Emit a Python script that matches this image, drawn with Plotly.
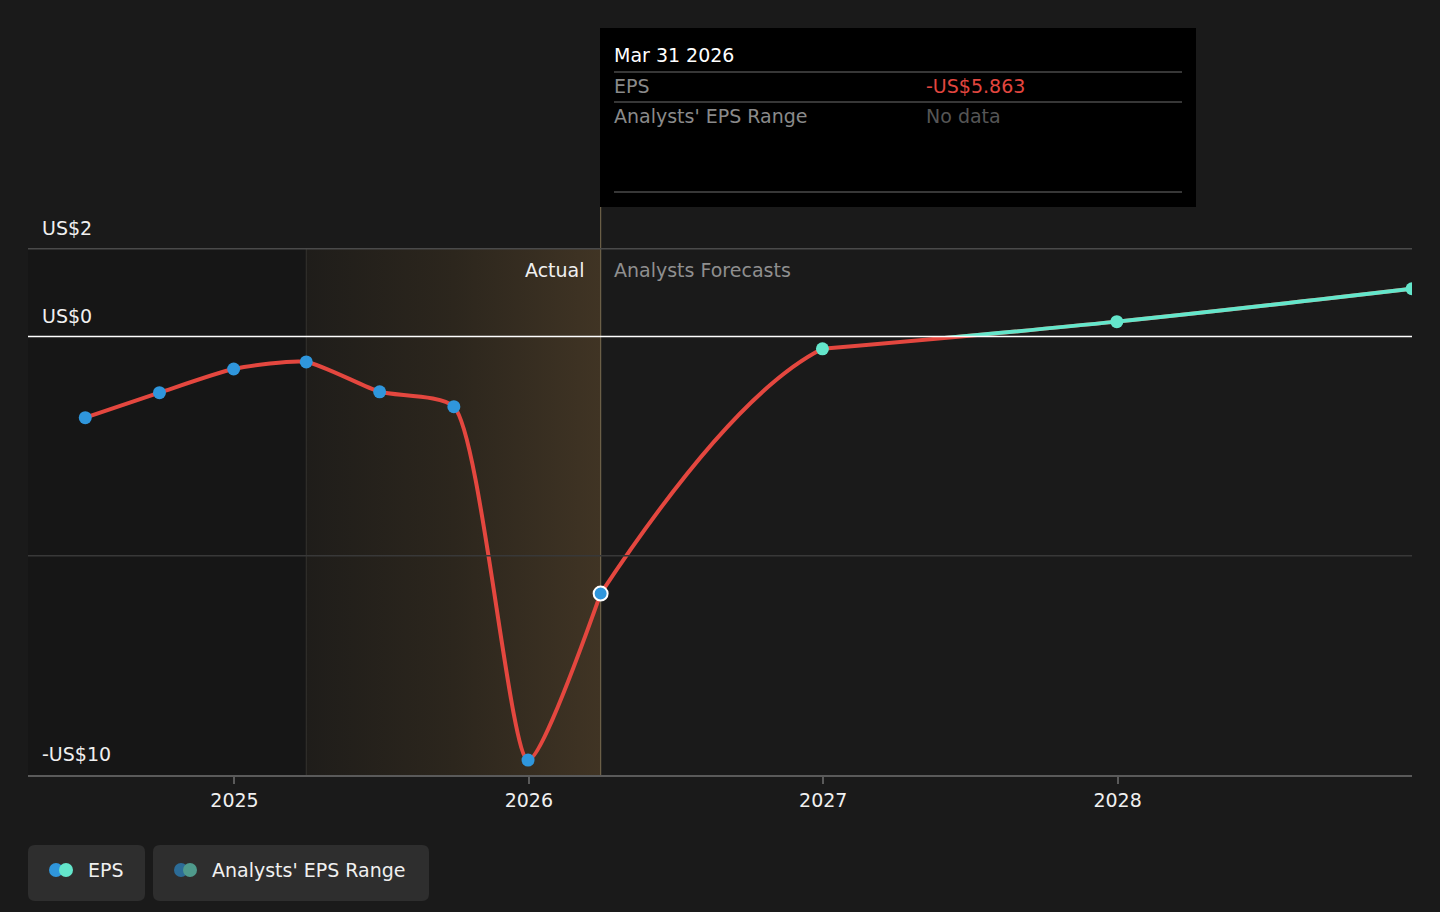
import pandas as pd
import plotly.graph_objects as go

# ---------------- data ----------------
actual_dates = ["2024-06-30", "2024-09-30", "2024-12-31", "2025-03-31",
                "2025-06-30", "2025-09-30", "2025-12-31", "2026-03-31"]
actual_eps = [-1.85, -1.28, -0.74, -0.58, -1.26, -1.60, -9.66, -5.863]

forecast_dates = ["2026-12-31", "2027-12-31", "2028-12-31"]
forecast_eps = [-0.28, 0.34, 1.09]

x_tick_vals = ["2025-01-01", "2026-01-01", "2027-01-01", "2028-01-01"]
x_tick_text = ["2025", "2026", "2027", "2028"]
y_tick_vals = [2, 0, -10]
y_tick_text = ["US$2", "US$0", "-US$10"]
grid_vals = [2, -5]

hover_date = "2026-03-31"
hover_value = -5.863
shade_start = "2025-03-31"
x_range = ["2024-04-20", "2028-12-31"]
y_range = [-10, 3]

# ---------------- style ----------------
BG = "#1a1a1a"
RED = "#e4473f"
TEAL = "#64e6cb"
BLUE = "#2f96dc"
FONT = "DejaVu Sans"
FS = 19
SMOOTH_ACT = 0.6
SMOOTH_FC = 1.0
W, H = 1440, 912
ML, MR, MT, MB = 28, 28, 205, 137
PW, PH = W - ML - MR, H - MT - MB


def px(xp):
    return (xp - ML) / PW


def py(yp):
    return (H - MB - yp) / PH


# forecast line pieces
fc_line_dates = [actual_dates[-1]] + forecast_dates
fc_line_eps = [actual_eps[-1]] + forecast_eps
split_date = forecast_dates[0]

# fraction of x-domain where the first forecast point lies (for clipping)
t0, t1 = pd.Timestamp(x_range[0]), pd.Timestamp(x_range[1])
split_frac = (pd.Timestamp(split_date) - t0) / (t1 - t0)

fig = go.Figure()

# shaded "actual" band with horizontal gradient
fig.add_trace(go.Scatter(
    x=[shade_start, hover_date, hover_date, shade_start, shade_start],
    y=[y_tick_vals[0], y_tick_vals[0], y_range[0], y_range[0], y_tick_vals[0]],
    mode="lines", line=dict(width=0), fill="toself",
    fillgradient=dict(type="horizontal",
                      colorscale=[[0, "#1f1d1a"], [0.5, "#2c261d"], [1, "#403424"]]),
    hoverinfo="skip", showlegend=False))

# band left edge and hover vertical line
fig.add_trace(go.Scatter(
    x=[shade_start, shade_start], y=[y_range[0], y_tick_vals[0]], mode="lines",
    line=dict(color="#35332f", width=1), hoverinfo="skip", showlegend=False))
fig.add_trace(go.Scatter(
    x=[hover_date, hover_date], y=[y_range[0], y_range[1]], mode="lines",
    line=dict(color="#6e6148", width=1.2), hoverinfo="skip", showlegend=False))

# actual line (red)
fig.add_trace(go.Scatter(
    x=actual_dates, y=actual_eps, mode="lines",
    line=dict(color=RED, width=4, shape="spline", smoothing=SMOOTH_ACT),
    hoverinfo="skip", showlegend=False))

# forecast line, first stretch (clipped at first forecast point via x2 domain)
fig.add_trace(go.Scatter(
    x=fc_line_dates, y=fc_line_eps, mode="lines", xaxis="x2",
    line=dict(color=RED, width=4, shape="spline", smoothing=SMOOTH_FC),
    hoverinfo="skip", showlegend=False))

# forecast line, rest: red, plus a teal copy clipped to the positive region via y2
fig.add_trace(go.Scatter(
    x=forecast_dates, y=forecast_eps, mode="lines",
    line=dict(color=RED, width=4, shape="spline", smoothing=SMOOTH_FC),
    hoverinfo="skip", showlegend=False))
fig.add_trace(go.Scatter(
    x=forecast_dates, y=forecast_eps, mode="lines", yaxis="y2",
    line=dict(color=TEAL, width=4, shape="spline", smoothing=SMOOTH_FC),
    hoverinfo="skip", showlegend=False))

# actual markers
fig.add_trace(go.Scatter(
    x=actual_dates[:-1], y=actual_eps[:-1], mode="markers",
    marker=dict(color=BLUE, size=13), hoverinfo="skip", showlegend=False))

# forecast markers (first one on x2 so it sits above the x2 line)
fig.add_trace(go.Scatter(
    x=forecast_dates[1:], y=forecast_eps[1:], mode="markers",
    marker=dict(color=TEAL, size=13), hoverinfo="skip", showlegend=False))
fig.add_trace(go.Scatter(
    x=forecast_dates[:1], y=forecast_eps[:1], mode="markers", xaxis="x2",
    cliponaxis=False, marker=dict(color=TEAL, size=13), hoverinfo="skip",
    showlegend=False))

# hovered point
fig.add_trace(go.Scatter(
    x=[hover_date], y=[hover_value], mode="markers", xaxis="x2", cliponaxis=False,
    marker=dict(color=BLUE, size=14, line=dict(color="white", width=2)),
    hoverinfo="skip", showlegend=False))

shapes = []
# darker region left of shaded band
shapes.append(dict(type="rect", xref="x", yref="y", x0=x_range[0], x1=shade_start,
                   y0=y_range[0], y1=y_tick_vals[0], fillcolor="#161616",
                   line=dict(width=0), layer="below"))
# gridlines
shapes.append(dict(type="line", xref="paper", yref="y", x0=0, x1=1, y0=grid_vals[0],
                   y1=grid_vals[0], line=dict(color="#4a4a4a", width=1.5), layer="above"))
shapes.append(dict(type="line", xref="paper", yref="y", x0=0, x1=1, y0=grid_vals[1],
                   y1=grid_vals[1], line=dict(color="#383838", width=1.5), layer="above"))
shapes.append(dict(type="line", xref="paper", yref="y", x0=0, x1=1, y0=0, y1=0,
                   line=dict(color="#ffffff", width=1.5), layer="above"))
# tooltip box
shapes.append(dict(type="rect", xref="paper", yref="paper", x0=px(600), x1=px(1196),
                   y0=py(207), y1=py(28), fillcolor="#000000", line=dict(width=0)))
for ly in [72, 102, 192]:
    shapes.append(dict(type="line", xref="paper", yref="paper", x0=px(614), x1=px(1182),
                       y0=py(ly), y1=py(ly), line=dict(color="#4a4a4a", width=1.5)))


# legend buttons (rounded rects in pixel size mode)
def rounded(cx, cy, w, h, r, color):
    hw, hh = w / 2, h / 2
    path = (f"M {-hw + r},{-hh} L {hw - r},{-hh} Q {hw},{-hh} {hw},{-hh + r} "
            f"L {hw},{hh - r} Q {hw},{hh} {hw - r},{hh} L {-hw + r},{hh} "
            f"Q {-hw},{hh} {-hw},{hh - r} L {-hw},{-hh + r} Q {-hw},{-hh} {-hw + r},{-hh} Z")
    return dict(type="path", xref="paper", yref="paper", xsizemode="pixel", ysizemode="pixel",
                xanchor=px(cx), yanchor=py(cy), path=path, fillcolor=color, line=dict(width=0))


shapes.append(rounded((28 + 145) / 2, 873, 117, 56, 7, "#2e2e2e"))
shapes.append(rounded((153 + 429) / 2, 873, 276, 56, 7, "#2e2e2e"))


def dot(cx, cy, r, color):
    return dict(type="circle", xref="paper", yref="paper", xsizemode="pixel", ysizemode="pixel",
                xanchor=px(cx), yanchor=py(cy), x0=-r, x1=r, y0=-r, y1=r,
                fillcolor=color, line=dict(width=0))


shapes += [dot(56, 870, 7, BLUE), dot(66, 870, 7, TEAL),
           dot(181, 870, 7, "#2c6c97"), dot(190, 870, 7, "#4f9a8c")]


def label(xp, yp, text, color, anchor="left", size=FS):
    return dict(x=px(xp), xref="paper", y=py(yp), yref="paper", text=text, showarrow=False,
                xanchor=anchor, yanchor="middle", font=dict(family=FONT, size=size, color=color))


annotations = []
for v, t in zip(y_tick_vals, y_tick_text):
    annotations.append(dict(x=px(40), xref="paper", y=v, yref="y", text=t, showarrow=False,
                            xanchor="left", yanchor="bottom", yshift=8,
                            font=dict(family=FONT, size=FS, color="#f0f0f0")))
annotations.append(label(587, 270, "Actual", "#f0f0f0", anchor="right"))
annotations.append(label(612, 270, "Analysts Forecasts", "#8f8f8f"))
# tooltip texts
annotations.append(label(612, 55, "Mar 31 2026", "#ffffff"))
annotations.append(label(612, 86, "EPS", "#8a8a8a"))
annotations.append(label(924, 86, f"-US${abs(hover_value):.3f}", "#e2463f"))
annotations.append(label(612, 116, "Analysts' EPS Range", "#8a8a8a"))
annotations.append(label(924, 116, "No data", "#555555"))
# legend texts
annotations.append(label(86, 870, "EPS", "#f0f0f0"))
annotations.append(label(210, 870, "Analysts' EPS Range", "#f0f0f0"))

zero_frac = (0 - y_range[0]) / (y_range[1] - y_range[0])

fig.update_layout(
    width=W, height=H,
    margin=dict(l=ML, r=MR, t=MT, b=MB),
    paper_bgcolor=BG, plot_bgcolor="rgba(0,0,0,0)",
    showlegend=False,
    xaxis=dict(type="date", range=x_range, tickvals=x_tick_vals, ticktext=x_tick_text,
               showgrid=False, zeroline=False, showline=True, linecolor="#5a5a5a",
               linewidth=2, ticks="outside", ticklen=7, tickcolor="#5a5a5a", tickwidth=2,
               tickfont=dict(family=FONT, size=FS, color="#f0f0f0"), fixedrange=True),
    xaxis2=dict(type="date", range=[x_range[0], split_date], domain=[0, split_frac],
                anchor="y", visible=False, fixedrange=True),
    yaxis=dict(range=y_range, showgrid=False, zeroline=False, showticklabels=False,
               ticks="", domain=[0, 1], fixedrange=True),
    yaxis2=dict(range=[0, y_range[1]], domain=[zero_frac, 1], anchor="x",
                showgrid=False, zeroline=False, showticklabels=False, ticks="",
                fixedrange=True),
    shapes=shapes,
    annotations=annotations,
    font=dict(family=FONT),
)

fig.write_html("out.html", config={"displayModeBar": False},
               post_script="document.body.style.margin='0';"
                           "document.body.style.background='#1a1a1a';")
